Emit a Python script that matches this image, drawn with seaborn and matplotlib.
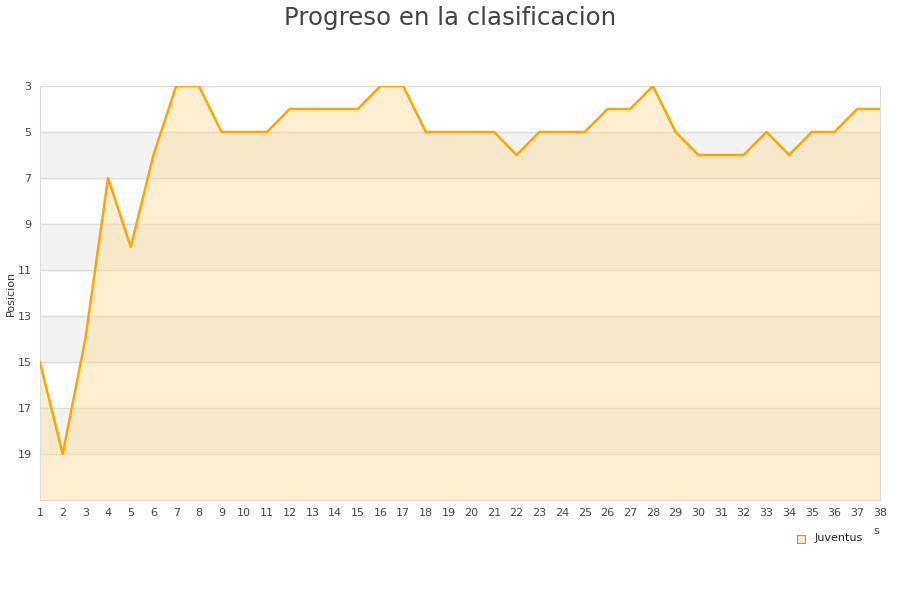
import numpy as np
import pandas as pd
import matplotlib.pyplot as plt
import seaborn as sns

# datos
jornadas = list(range(1, 39))
posicion = [15, 19, 14, 7, 10, 6, 3, 3, 5, 5, 5, 4, 4, 4, 4, 3, 3, 5, 5, 5,
            5, 6, 5, 5, 5, 4, 4, 3, 5, 6, 6, 6, 5, 6, 5, 5, 4, 4]
equipo = 'Juventus'
yticks = [3, 5, 7, 9, 11, 13, 15, 17, 19]

df = pd.DataFrame({'Jornada': jornadas, 'Posicion': posicion})

sns.set_style('white')
plt.rcParams['font.family'] = ['DejaVu Sans']

fig = plt.figure(figsize=(9, 6), dpi=100)
ax = fig.add_axes([0.0444, 0.1667, 0.9333, 0.69])

# bandas alternas
for y0 in range(5, 21, 4):
    ax.axhspan(y0, y0 + 2, color='#f3f3f3', zorder=0)
for y in yticks:
    ax.axhline(y, color='#dddddd', lw=1, zorder=1)

ax.fill_between(df['Jornada'], df['Posicion'], 21, color='#ffd98a', alpha=0.4,
                lw=0, zorder=2)
sns.lineplot(data=df, x='Jornada', y='Posicion', color='#ffa500', lw=1.8,
             ax=ax, zorder=3)

ax.set_xlim(1, 38)
ax.set_ylim(21, 3)
ax.set_xticks(jornadas)
ax.set_yticks(yticks)
ax.tick_params(labelsize=8, colors='#444444', length=0, pad=6)
ax.set_xlabel('')
ax.set_ylabel('')
for s in ax.spines.values():
    s.set_color('#dddddd')

fig.text(11 / 900, 1 - 293 / 600, 'Posicion', rotation=90, fontsize=8,
         color='#333333', ha='center', va='center')
fig.suptitle('Progreso en la clasificacion', y=0.99, fontsize=17.6, color='#444444')

# leyenda
fig.patches.append(plt.Rectangle((797 / 900, 1 - 543 / 600), 8 / 900, 8 / 600,
                                 transform=fig.transFigure, fc='#fde9c4',
                                 ec='#999999', lw=0.8))
fig.text(815 / 900, 1 - 538 / 600, equipo, fontsize=8, va='center', color='#222222')
fig.text(873 / 900, 1 - 531 / 600, 's', fontsize=8, va='center', color='#444444')

fig.savefig('out.png', dpi=100)
